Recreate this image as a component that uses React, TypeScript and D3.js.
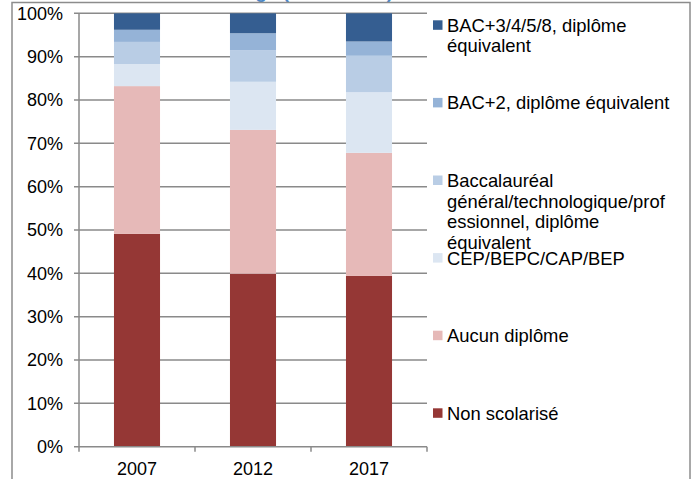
import React from "react";
import * as d3 from "d3";

const years = ["2007", "2012", "2017"];
const nonScolarise = [49.1, 39.9, 39.4];
const aucunDiplome = [34.1, 33.2, 28.4];
const cepBepc = [5.1, 11.1, 14.0];
const baccalaureat = [5.1, 7.3, 8.4];
const bacPlus2 = [2.8, 3.9, 3.3];
const bacPlus3 = [3.8, 4.6, 6.5];
const yTicks = [0, 10, 20, 30, 40, 50, 60, 70, 80, 90, 100];

const seriesKeys = ["non", "aucun", "cep", "bac", "bac2", "bac3"];
const seriesValues: Record<string, number[]> = {
  non: nonScolarise,
  aucun: aucunDiplome,
  cep: cepBepc,
  bac: baccalaureat,
  bac2: bacPlus2,
  bac3: bacPlus3,
};
const seriesColors: Record<string, string> = {
  non: "#953735",
  aucun: "#E6B9B8",
  cep: "#DCE6F2",
  bac: "#B9CDE5",
  bac2: "#95B3D7",
  bac3: "#355E91",
};
const legendItems: { key: string; lines: string[] }[] = [
  { key: "bac3", lines: ["BAC+3/4/5/8, diplôme", "équivalent"] },
  { key: "bac2", lines: ["BAC+2, diplôme équivalent"] },
  { key: "bac", lines: ["Baccalauréal", "général/technologique/prof", "essionnel, diplôme", "équivalent"] },
  { key: "cep", lines: ["CEP/BEPC/CAP/BEP"] },
  { key: "aucun", lines: ["Aucun diplôme"] },
  { key: "non", lines: ["Non scolarisé"] },
];

export default function App() {
  const W = 694;
  const H = 479;
  const left = 79;
  const right = 427;
  const top = 13.3;
  const bottom = 446.7;

  const x = d3.scaleBand<string>().domain(years).range([left, right]).paddingInner(0.603).paddingOuter(0.3015);
  const y = d3.scaleLinear().domain([0, 100]).range([bottom, top]);

  const rows = years.map((yr, i) => {
    const r: any = { year: yr };
    seriesKeys.forEach((k) => (r[k] = seriesValues[k][i]));
    return r;
  });
  const stack = d3.stack<any>().keys(seriesKeys)(rows);

  const step = x.step();
  const boundaries = [0, 1, 2, 3].map((i) => left + i * step);
  const font = "'Liberation Sans', Arial, sans-serif";
  const gridColor = "#8a8a8a";

  const legendX = 433;
  const legendFirst = 25;
  const legendGap = 77.6;
  const lineH = 20.7;

  return (
    <svg width={W} height={H} style={{ position: "absolute", left: 0, top: 0, background: "#fff" }} fontFamily={font}>
      <rect x={0} y={0} width={W} height={H} fill="#fff" />
      <text x={393} y={-2.5} textAnchor="end" fontSize={19} fill="#4a86c8" fontWeight="bold">
        Niveau d'études selon l'âge (15 ans et +)
      </text>
      <rect x={12} y={2.5} width={678} height={H + 10} fill="none" stroke="#8c8c8c" strokeWidth={1.5} />

      {yTicks.map((t) => (
        <g key={t}>
          {t > 0 && <line x1={left - 5} x2={right} y1={y(t)} y2={y(t)} stroke={gridColor} strokeWidth={1.5} />}
          <text x={63} y={y(t) + 6.3} textAnchor="end" fontSize={18} fill="#000">
            {t}%
          </text>
        </g>
      ))}

      {stack.map((s) => (
        <g key={s.key} fill={seriesColors[s.key]}>
          {s.map((d, i) => (
            <rect key={i} x={x(years[i])} width={x.bandwidth()} y={y(d[1])} height={y(d[0]) - y(d[1])} />
          ))}
        </g>
      ))}

      <line x1={left} x2={left} y1={top} y2={bottom} stroke={gridColor} strokeWidth={1.5} />
      <line x1={left - 5} x2={right} y1={bottom} y2={bottom} stroke={gridColor} strokeWidth={1.5} />
      {boundaries.map((b, i) => (
        <line key={i} x1={b} x2={b} y1={bottom} y2={bottom + 5} stroke={gridColor} strokeWidth={1.5} />
      ))}
      {years.map((yr) => (
        <text key={yr} x={(x(yr) as number) + x.bandwidth() / 2} y={475} textAnchor="middle" fontSize={18} fill="#000">
          {yr}
        </text>
      ))}

      {legendItems.map((it, i) => {
        const cy = legendFirst + i * legendGap;
        return (
          <g key={it.key}>
            <rect x={legendX} y={cy - 4.7} width={9.5} height={9.5} fill={seriesColors[it.key]} />
            <text x={447} y={cy + 6.7} fontSize={18.4} fill="#000">
              {it.lines.map((ln, j) => (
                <tspan key={j} x={447} y={cy + 6.7 + j * lineH}>
                  {ln}
                </tspan>
              ))}
            </text>
          </g>
        );
      })}
    </svg>
  );
}
